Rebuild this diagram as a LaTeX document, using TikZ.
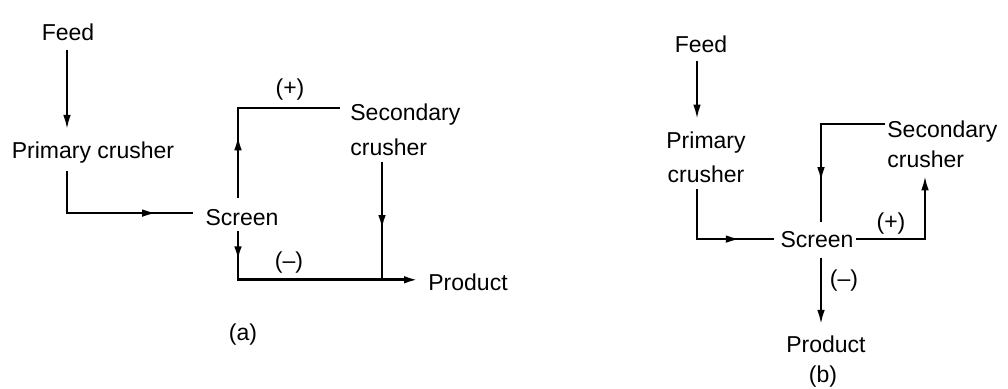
\documentclass[tikz,border=0pt]{standalone}
\usepackage{fontspec}
\setmainfont{Liberation Sans}
\usetikzlibrary{arrows.meta,calc,decorations.markings}

\begin{document}
\begin{tikzpicture}[x=0.5pt,y=-0.5pt,
  lbl/.style={inner sep=0pt,font=\fontsize{11.5}{17}\selectfont},
  flow/.style={line width=1pt},
  tip/.style={-{Latex[length=7pt,width=3.8pt]}},
  midarrow/.style={postaction={decorate},decoration={markings,
    mark=at position #1 with {\arrow{Latex[length=7pt,width=3.8pt]}}}}]
  \useasboundingbox (0,0) rectangle (1008,388);
  % (a) open circuit
  \node[lbl,anchor=base] (feedA) at (68,40) {Feed};
  \node[lbl,anchor=base] (primA) at (93,158) {Primary crusher};
  \node[lbl,anchor=base] (screenA) at (242,225) {Screen};
  \node[lbl,anchor=north west,align=left,font=\fontsize{11.5}{17.5}\selectfont] (secA) at (350,103) {Secondary\\crusher};
  \node[lbl,anchor=base west] (prodA) at (428,290) {Product};
  \node[lbl,anchor=base] (plusA) at (290,95) {(+)};
  \node[lbl,anchor=base] (minusA) at (289,268) {(--)};
  \node[lbl,anchor=base] (capA) at (243,340) {(a)};
  \coordinate (jA) at ($(secA.south west |- prodA.west)+(32,-2)$);
  \draw[flow,tip] ($(feedA.south)+(-1,9)$) -- ($(feedA.south |- primA.north)+(-1,-12)$);
  \draw[flow,midarrow=0.78] ($(feedA.south |- primA.south)+(-1,8)$) |- ($(screenA.west)+(-12,-4)$);
  \draw[flow,midarrow=0.32] ($(screenA.north)+(-4,-11)$) |- ($(secA.north west)+(-10,5)$);
  \draw[flow,line width=1.2pt,midarrow=0.57] ($(secA.south west)+(32,6)$) -- (jA);
  \draw[flow,line width=1.3pt,tip,midarrow=0.13] ($(screenA.south)+(-4,5)$) |- ($(prodA.west)+(-10,-2)$);
  % (b) closed circuit
  \node[lbl,anchor=base] (feedB) at (701,52) {Feed};
  \node[lbl,anchor=north,align=center] (primB) at (706,131.6) {Primary\\crusher};
  \node[lbl,anchor=base] (screenB) at (817,247) {Screen};
  \node[lbl,anchor=north west,align=left,font=\fontsize{11.5}{15}\selectfont] (secB) at (887,120.6) {Secondary\\crusher};
  \node[lbl,anchor=base] (prodB) at (826,352) {Product};
  \node[lbl,anchor=base] (plusB) at (891,229) {(+)};
  \node[lbl,anchor=base] (minusB) at (844,286) {(--)};
  \node[lbl,anchor=base] (capB) at (823,382) {(b)};
  \draw[flow,tip] ($(feedB.south)+(-4,8)$) -- ($(feedB.south |- primB.north)+(-4,-13)$);
  \draw[flow,midarrow=0.73] ($(feedB.south |- primB.south)+(-4,6)$) |- ($(screenB.west)+(-6,0)$);
  \draw[flow,tip] ($(screenB.east)+(2,0)$) -| ($(secB.south west)+(38,8)$);
  \draw[flow,midarrow=0.75] ($(secB.north west)+(-2,3.4)$) -| ($(screenB.north)+(4,-9)$);
  \draw[flow,tip] ($(screenB.south)+(4,10)$) -- ($(screenB.south |- prodB.north)+(4,-11)$);
\end{tikzpicture}
\end{document}
